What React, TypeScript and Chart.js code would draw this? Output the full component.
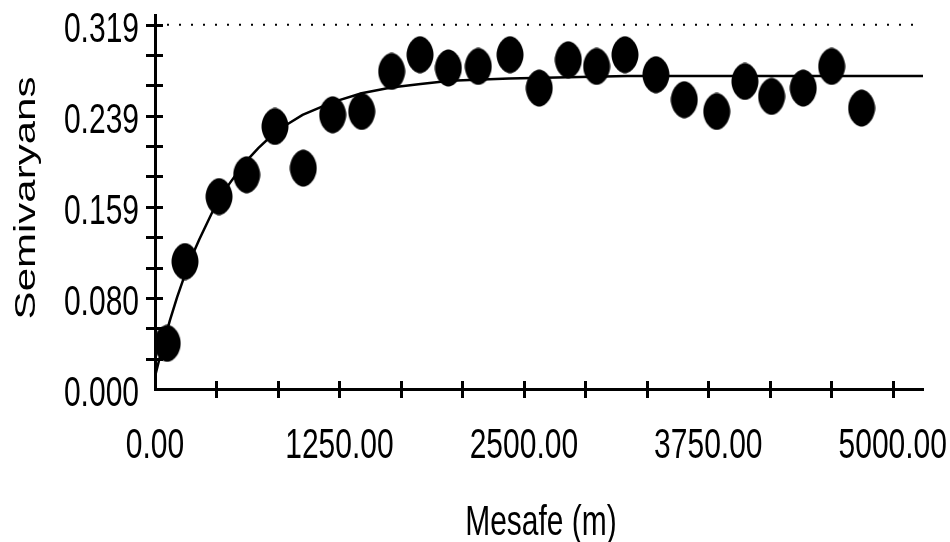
import React, { useEffect, useRef } from "react";
import { Chart, registerables } from "chart.js";

Chart.register(...registerables);

// Experimental semivariogram (lag distance in m, semivariance)
const lagDistances = [83, 203, 434, 621, 813, 1005, 1204, 1401, 1604, 1796, 1988, 2191, 2406, 2604, 2801, 2993, 3185, 3395, 3587, 3807, 3998, 4179, 4393, 4586, 4789];
const semivariance = [0.040, 0.1116, 0.1685, 0.1876, 0.2299, 0.1934, 0.2401, 0.2430, 0.2781, 0.2927, 0.2811, 0.2825, 0.2927, 0.2635, 0.2883, 0.2825, 0.2927, 0.2752, 0.2533, 0.2430, 0.2693, 0.2562, 0.2635, 0.2825, 0.2460];

// Fitted model curve
const modelDistances = [0, 50, 100, 150, 200, 250, 300, 400, 500, 600, 700, 800, 900, 1000, 1200, 1400, 1600, 1800, 2000, 2400, 2800, 3200, 5205];
const modelValues = [0.011, 0.0365, 0.0597, 0.0804, 0.099, 0.1163, 0.131, 0.158, 0.179, 0.197, 0.211, 0.223, 0.232, 0.240, 0.251, 0.259, 0.264, 0.267, 0.270, 0.272, 0.273, 0.274, 0.274];

// Sample variance (dotted line)
const sillValue = 0.319;

const xMin = 0;
const xMax = 5205;
const yMin = 0;
const yMax = 0.3275;

const xTickValues = [0, 1250, 2500, 3750, 5000];
const xTickLabels = ["0.00", "1250.00", "2500.00", "3750.00", "5000.00"];
const yTickValues = [0, 0.07975, 0.1595, 0.23925, 0.319];
const yTickLabels = ["0.000", "0.080", "0.159", "0.239", "0.319"];
const minorPerMajor = 3;

const xTitle = "Mesafe (m)";
const yTitle = "Semivaryans";

const FONT = '30px "Liberation Sans", Arial, sans-serif';
const STRETCH = 1.4;

const axisDecor = {
  id: "axisDecor",
  afterDraw(chart: any) {
    const { ctx, chartArea } = chart;
    const xs = chart.scales.x;
    const ys = chart.scales.y;
    ctx.save();
    ctx.strokeStyle = "#000";
    ctx.lineWidth = 3;
    for (let i = 0; i < xTickValues.length - 1; i++) {
      const a = xTickValues[i];
      const b = xTickValues[i + 1];
      for (let k = 1; k <= minorPerMajor; k++) {
        const v = a + ((b - a) * k) / minorPerMajor;
        const px = Math.round(xs.getPixelForValue(v)) + 0.5;
        ctx.beginPath();
        ctx.moveTo(px, chartArea.bottom - 8);
        ctx.lineTo(px, chartArea.bottom + 9);
        ctx.stroke();
      }
    }
    for (let i = 0; i < yTickValues.length - 1; i++) {
      const a = yTickValues[i];
      const b = yTickValues[i + 1];
      for (let k = 1; k <= minorPerMajor; k++) {
        const v = a + ((b - a) * k) / minorPerMajor;
        const py = Math.round(ys.getPixelForValue(v)) + 0.5;
        ctx.beginPath();
        ctx.moveTo(chartArea.left - 9, py);
        ctx.lineTo(chartArea.left + 8, py);
        ctx.stroke();
      }
    }

    ctx.fillStyle = "#000";
    ctx.font = FONT;
    ctx.textBaseline = "alphabetic";

    ctx.textAlign = "center";
    xTickValues.forEach((v, i) => {
      const px = xs.getPixelForValue(v);
      ctx.save();
      ctx.translate(px, chartArea.bottom + 69);
      ctx.scale(1, STRETCH);
      ctx.fillText(xTickLabels[i], 0, 0);
      ctx.restore();
    });

    ctx.textAlign = "right";
    yTickValues.forEach((v, i) => {
      const py = ys.getPixelForValue(v);
      ctx.save();
      ctx.translate(chartArea.left - 16, py + 17);
      ctx.scale(1, STRETCH);
      ctx.fillText(yTickLabels[i], 0, 0);
      ctx.restore();
    });

    ctx.textAlign = "center";
    ctx.save();
    ctx.translate((chartArea.left + chartArea.right) / 2 + 2, chartArea.bottom + 146);
    ctx.scale(1, STRETCH);
    ctx.fillText(xTitle, 0, 0);
    ctx.restore();

    ctx.save();
    ctx.translate(35, (chartArea.top + chartArea.bottom) / 2 - 4);
    ctx.rotate(-Math.PI / 2);
    ctx.scale(STRETCH, 1);
    ctx.fillText(yTitle, 0, 0);
    ctx.restore();

    ctx.restore();
  },
};

function makeMarker(): HTMLCanvasElement {
  const dot = document.createElement("canvas");
  dot.width = 28;
  dot.height = 38;
  const g = dot.getContext("2d");
  if (g) {
    const cx = 14, cy = 19, rx = 13.5, ry = 18.5, p = 1.85;
    g.fillStyle = "#000";
    g.beginPath();
    const n = 72;
    for (let i = 0; i <= n; i++) {
      const t = (i / n) * Math.PI * 2;
      const c = Math.cos(t), s = Math.sin(t);
      const x = cx + rx * Math.sign(c) * Math.pow(Math.abs(c), 2 / p);
      const y = cy + ry * Math.sign(s) * Math.pow(Math.abs(s), 2 / p);
      if (i === 0) g.moveTo(x, y);
      else g.lineTo(x, y);
    }
    g.closePath();
    g.fill();
  }
  return dot;
}

export default function App() {
  const ref = useRef<HTMLCanvasElement | null>(null);

  useEffect(() => {
    const canvas = ref.current;
    if (!canvas) return;

    const dot = makeMarker();

    const points = lagDistances.map((x, i) => ({ x, y: semivariance[i] }));
    const model = modelDistances.map((x, i) => ({ x, y: modelValues[i] }));
    const sillLine = [
      { x: xMin, y: sillValue },
      { x: xMax, y: sillValue },
    ];

    const chart = new Chart(canvas, {
      type: "scatter",
      data: {
        datasets: [
          {
            label: "Semivaryans",
            data: points,
            pointStyle: dot as any,
            pointRadius: 14,
            showLine: false,
            backgroundColor: "#000",
            borderColor: "#000",
          },
          {
            label: "Model",
            data: model,
            showLine: true,
            pointRadius: 0,
            borderColor: "#000",
            borderWidth: 2.5,
            tension: 0,
            fill: false,
          },
          {
            label: "Varyans",
            data: sillLine,
            showLine: true,
            pointRadius: 0,
            borderColor: "#000",
            borderWidth: 2,
            borderDash: [2, 10],
            fill: false,
          },
        ],
      },
      options: {
        responsive: false,
        animation: false,
        devicePixelRatio: 1,
        layout: { padding: { top: 15, right: 27, left: 0, bottom: 0 } },
        plugins: {
          legend: { display: false },
          tooltip: { enabled: false },
        },
        scales: {
          x: {
            type: "linear",
            min: xMin,
            max: xMax,
            grid: { display: false, drawTicks: false },
            ticks: { display: false },
            border: { display: true, color: "#000", width: 3 },
            afterFit: (s: any) => {
              s.height = 153;
            },
          },
          y: {
            type: "linear",
            min: yMin,
            max: yMax,
            grid: { display: false, drawTicks: false },
            ticks: { display: false },
            border: { display: true, color: "#000", width: 3 },
            afterFit: (s: any) => {
              s.width = 155;
            },
          },
        },
      },
      plugins: [axisDecor],
    });

    return () => chart.destroy();
  }, []);

  return (
    <div style={{ position: "absolute", left: 0, top: 0, width: 950, height: 542, background: "#fff" }}>
      <canvas ref={ref} width={950} height={542} />
    </div>
  );
}
